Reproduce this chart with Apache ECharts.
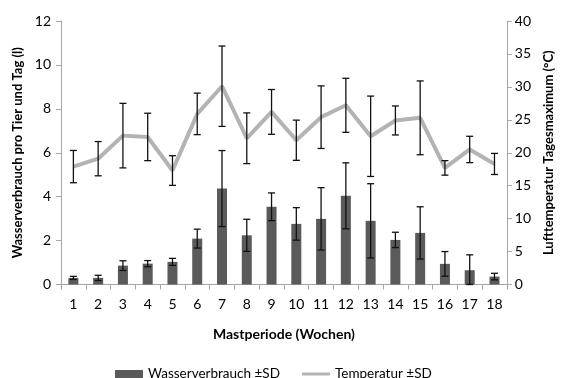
<!DOCTYPE html>
<html>
<head>
<meta charset="utf-8">
<script src="https://cdn.jsdelivr.net/npm/echarts@6/dist/echarts.min.js"></script>
<style>
  html, body { margin: 0; padding: 0; background: #fff; }
  #chart { width: 563px; height: 378px; }
</style>
</head>
<body>
<div id="chart"></div>
<script>
// Werte
var weeks = ['1', '2', '3', '4', '5', '6', '7', '8', '9', '10', '11', '12', '13', '14', '15', '16', '17', '18'];
var water = [0.3, 0.3, 0.86, 0.95, 1.03, 2.09, 4.37, 2.24, 3.54, 2.76, 2.99, 4.04, 2.9, 2.03, 2.35, 0.94, 0.65, 0.36];
var waterSD = [0.07, 0.12, 0.22, 0.14, 0.16, 0.43, 1.73, 0.73, 0.63, 0.74, 1.42, 1.5, 1.69, 0.35, 1.19, 0.56, 0.7, 0.15];
var temp = [17.9, 19.1, 22.6, 22.4, 17.3, 25.9, 30.1, 22.2, 26.2, 21.9, 25.4, 27.2, 22.5, 24.9, 25.3, 17.7, 20.5, 18.3];
var tempSD = [2.45, 2.6, 4.9, 3.6, 2.25, 3.15, 6.1, 3.85, 3.4, 3.05, 4.75, 4.1, 6.1, 2.2, 5.6, 1.1, 2.0, 1.6];

var font = 'Lato';

// Fehlerbalken: [index, unten, oben]
function errData(vals, sds) {
	var out = [];
	for (var i = 0; i < vals.length; i++) {
		out.push([i, Math.max(0, vals[i] - sds[i]), vals[i] + sds[i]]);
	}
	return out;
}

function renderErr(params, api) {
	var x = api.value(0);
	var lo = api.coord([x, api.value(1)]);
	var hi = api.coord([x, api.value(2)]);
	var w = 3.5;
	var st = { stroke: '#111', lineWidth: 1.3 };
	return {
		type: 'group',
		children: [
			{ type: 'line', shape: { x1: hi[0], y1: hi[1], x2: lo[0], y2: lo[1] }, style: st },
			{ type: 'line', shape: { x1: hi[0] - w, y1: hi[1], x2: hi[0] + w, y2: hi[1] }, style: st },
			{ type: 'line', shape: { x1: lo[0] - w, y1: lo[1], x2: lo[0] + w, y2: lo[1] }, style: st }
		]
	};
}

var chart = echarts.init(document.getElementById('chart'));
var axisCol = '#a6a6a6';
var option = {
	animation: false,
	textStyle: { fontFamily: font },
	grid: { left: 61, right: 54, top: 21, bottom: 93.5 },
	legend: {
		top: 362,
		left: 110,
		itemWidth: 28,
		itemHeight: 8,
		itemGap: 22,
		textStyle: { fontFamily: font, fontSize: 13.5, color: '#000' },
		data: [
			{ name: 'Wasserverbrauch ±SD', icon: 'rect' },
			{ name: 'Temperatur ±SD', icon: 'path://M0,0 L28,0 L28,3 L0,3 Z' }
		]
	},
	xAxis: {
		type: 'category',
		data: weeks,
		name: 'Mastperiode (Wochen)',
		nameLocation: 'middle',
		nameGap: 43,
		nameTextStyle: { fontFamily: font, fontWeight: 'bold', fontSize: 14, color: '#000' },
		axisLine: { lineStyle: { color: axisCol } },
		axisTick: { show: true, length: 5, lineStyle: { color: axisCol } },
		axisLabel: { fontSize: 14, color: '#000', margin: 13 }
	},
	yAxis: [
		{
			type: 'value',
			min: 0,
			max: 12,
			interval: 2,
			name: 'Wasserverbrauch pro Tier und Tag (l)',
			nameLocation: 'middle',
			nameGap: 36,
			nameTextStyle: { fontFamily: font, fontWeight: 'bold', fontSize: 13, color: '#000' },
			axisLine: { show: true, lineStyle: { color: axisCol } },
			axisTick: { show: true, length: 5, lineStyle: { color: axisCol } },
			splitLine: { show: false },
			axisLabel: { fontSize: 14, color: '#000', margin: 10 }
		},
		{
			type: 'value',
			min: 0,
			max: 40,
			interval: 5,
			name: 'Lufttemperatur Tagesmaximum (°C)',
			nameLocation: 'middle',
			nameGap: 32,
			nameRotate: 90,
			nameTextStyle: { fontFamily: font, fontWeight: 'bold', fontSize: 13, color: '#000' },
			axisLine: { show: true, lineStyle: { color: axisCol } },
			axisTick: { show: true, length: 5, lineStyle: { color: axisCol } },
			splitLine: { show: false },
			axisLabel: { fontSize: 14, color: '#000', margin: 8 }
		}
	],
	series: [
		{
			name: 'Wasserverbrauch ±SD',
			type: 'bar',
			data: water,
			barWidth: 10,
			itemStyle: { color: '#5a5a5a' }
		},
		{
			name: 'Temperatur ±SD',
			type: 'line',
			yAxisIndex: 1,
			data: temp,
			symbol: 'none',
			lineStyle: { color: '#b3b3b3', width: 4 },
			itemStyle: { color: '#b3b3b3' },
			z: 3
		},
		{
			type: 'custom',
			renderItem: renderErr,
			data: errData(water, waterSD),
			encode: { x: 0, y: [1, 2] },
			z: 4
		},
		{
			type: 'custom',
			yAxisIndex: 1,
			renderItem: renderErr,
			data: errData(temp, tempSD),
			encode: { x: 0, y: [1, 2] },
			z: 4
		}
	]
};
chart.setOption(option);
</script>
</body>
</html>
